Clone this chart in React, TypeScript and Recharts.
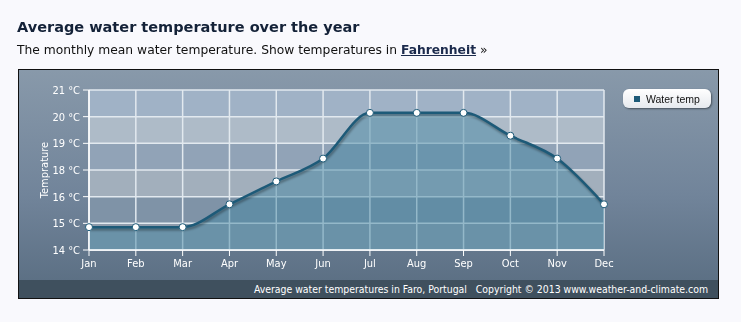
import {
  Area,
  CartesianGrid,
  ComposedChart,
  Line,
  XAxis,
  YAxis
} from "recharts";

const months = ["Jan", "Feb", "Mar", "Apr", "May", "Jun", "Jul", "Aug", "Sep", "Oct", "Nov", "Dec"];
const waterTemp = [15, 15, 15, 16, 17, 18, 20, 20, 20, 19, 18, 16];
// 7 evenly spaced ticks from 14 to 21, labels rounded the way the original shows them
const yTicks = [14, 15 + 1 / 6, 16 + 1 / 3, 17.5, 18 + 2 / 3, 19 + 5 / 6, 21];
// stripe colours, top to bottom
const bandColors = ["#a0b2c6", "#aebbc8", "#91a3b7", "#a2afbc", "#7f93a7", "#8e9cac"];

const data = months.map((m, i) => ({ month: m, temp: waterTemp[i] }));

const tickFont = "'DejaVu Sans Condensed', 'DejaVu Sans', sans-serif";
const lineColor = "#1d5a78";

function YLabel(props: any) {
  const vb = props.viewBox || { x: 0, y: 0, height: 0 };
  const x = vb.x + 25;
  const y = vb.y + vb.height / 2;
  return (
    <text
      x={x}
      y={y}
      transform={`rotate(-90, ${x}, ${y})`}
      textAnchor="middle"
      dominantBaseline="central"
      fill="#ffffff"
      fontSize={11}
      fontFamily={tickFont}
    >
      Temprature
    </text>
  );
}

function Dot(props: any) {
  const { cx, cy, index } = props;
  if (cx == null || cy == null) return null;
  return <circle key={index} cx={cx} cy={cy} r={3.5} fill="#ffffff" fillOpacity={1} stroke={lineColor} strokeWidth={1} />;
}

export default function App() {
  return (
    <div style={{ position: "relative", width: 733, height: 306 }}>
      <div style={{ position: "fixed", inset: 0, background: "#f9f9fd", zIndex: -1 }} />
      <div
        style={{
          position: "absolute",
          left: 9,
          top: 11,
          fontFamily: "'DejaVu Sans', Verdana, sans-serif",
          fontWeight: "bold",
          fontSize: 14.5,
          color: "#142238",
          whiteSpace: "nowrap"
        }}
      >
        Average water temperature over the year
      </div>
      <div
        style={{
          position: "absolute",
          left: 9,
          top: 35,
          fontFamily: "'DejaVu Sans', Verdana, sans-serif",
          fontSize: 12.3,
          color: "#111111",
          whiteSpace: "nowrap"
        }}
      >
        The monthly mean water temperature. Show temperatures in{" "}
        <span style={{ fontWeight: "bold", textDecoration: "underline", color: "#1b2a4c" }}>Fahrenheit</span> »
      </div>
      <div style={{ position: "absolute", left: 728, top: 0, width: 1, height: 306, background: "#c8cbd2" }} />

      <div
        style={{
          position: "absolute",
          left: 10,
          top: 61,
          width: 699,
          height: 228,
          border: "1px solid #111111",
          background: "linear-gradient(to bottom, #8899aa 0%, #71849a 55%, #586c80 100%)",
          overflow: "hidden"
        }}
      >
        <ComposedChart
          width={699}
          height={210}
          data={data}
          margin={{ top: 20, right: 114, left: 0, bottom: 10 }}
        >
          <CartesianGrid stroke="#e2e9ef" strokeWidth={1.5} horizontalFill={bandColors} fillOpacity={1} />
          <XAxis
            dataKey="month"
            height={20}
            interval={0}
            scale="point"
            tickSize={6}
            tickMargin={3}
            axisLine={{ stroke: "#ffffff", strokeWidth: 1.5 }}
            tickLine={{ stroke: "#ffffff" }}
            tick={{ fill: "#ffffff", fontSize: 11, fontFamily: tickFont }}
          />
          <YAxis
            width={70}
            type="number"
            domain={[14, 21]}
            ticks={yTicks}
            interval={0}
            tickSize={6}
            tickMargin={3}
            tickFormatter={(v: number) => `${Math.round(v)} °C`}
            axisLine={{ stroke: "#ffffff", strokeWidth: 1.5 }}
            tickLine={{ stroke: "#ffffff" }}
            tick={{ fill: "#ffffff", fontSize: 11, fontFamily: tickFont }}
            label={<YLabel />}
          />
          <Area
            type="monotone"
            dataKey="temp"
            baseValue={14}
            stroke="none"
            fill="#4688a4"
            fillOpacity={0.5}
            dot={false}
            activeDot={false}
            isAnimationActive={false}
          />
          <Line
            type="monotone"
            dataKey="temp"
            stroke={lineColor}
            strokeWidth={2.5}
            dot={<Dot />}
            activeDot={false}
            isAnimationActive={false}
            style={{ filter: "drop-shadow(1px 2px 1px rgba(0,0,0,0.35))" }}
          />
        </ComposedChart>

        <div
          style={{
            position: "absolute",
            left: 604,
            top: 19,
            width: 88,
            height: 19,
            borderRadius: 6,
            background: "linear-gradient(to bottom, #ffffff, #e6e9ee)",
            boxShadow: "1px 1px 2px rgba(0,0,0,0.45)",
            display: "flex",
            alignItems: "center",
            fontFamily: "'Liberation Sans', Arial, sans-serif",
            fontSize: 10.5,
            color: "#111111",
            whiteSpace: "nowrap"
          }}
        >
          <span style={{ display: "inline-block", width: 6, height: 6, background: lineColor, margin: "0 6px 0 11px" }} />
          Water temp
        </div>

        <div
          style={{
            position: "absolute",
            left: 0,
            top: 210,
            width: 699,
            height: 18,
            background: "#3f505e",
            color: "#ffffff",
            fontFamily: tickFont,
            fontSize: 10.4,
            lineHeight: "18px",
            textAlign: "right",
            paddingRight: 10,
            boxSizing: "border-box",
            whiteSpace: "pre"
          }}
        >
          {"Average water temperatures in Faro, Portugal   Copyright © 2013 www.weather-and-climate.com"}
        </div>
      </div>
    </div>
  );
}
